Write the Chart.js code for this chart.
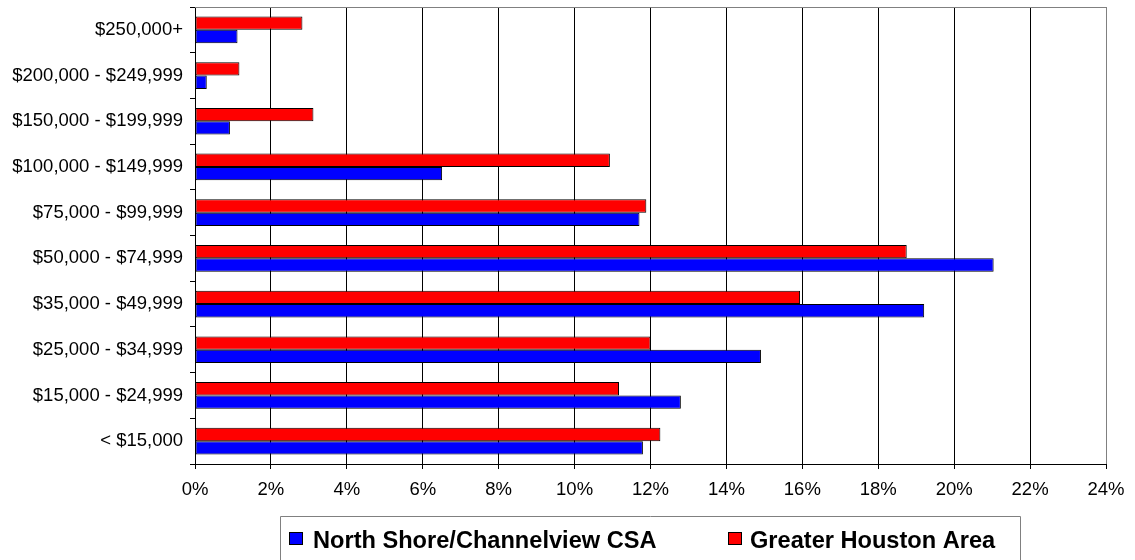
<!DOCTYPE html>
<html>
<head>
<meta charset="utf-8">
<script src="https://cdn.jsdelivr.net/npm/chart.js@4/dist/chart.umd.min.js"></script>
<style>
  html, body { margin: 0; padding: 0; background: #ffffff; }
  #wrap { width: 1135px; height: 560px; }
</style>
</head>
<body>
<div id="wrap"><canvas id="c" width="1135" height="560"></canvas></div>
<script>
// ---- data ----
const categories = [
  '$250,000+',
  '$200,000 - $249,999',
  '$150,000 - $199,999',
  '$100,000 - $149,999',
  '$75,000 - $99,999',
  '$50,000 - $74,999',
  '$35,000 - $49,999',
  '$25,000 - $34,999',
  '$15,000 - $24,999',
  '< $15,000'
];
const northShore = [1.12, 0.31, 0.92, 6.51, 11.71, 21.04, 19.21, 14.91, 12.8, 11.8];
const greaterHouston = [2.83, 1.17, 3.12, 10.93, 11.89, 18.75, 15.94, 12.0, 11.17, 12.26];
const seriesNames = ['North Shore/Channelview CSA', 'Greater Houston Area'];
const xTickValues = [0, 2, 4, 6, 8, 10, 12, 14, 16, 18, 20, 22, 24];

const FONT = '"Liberation Sans", Arial, sans-serif';

// frame (top border) drawn behind the bars
const framePlugin = {
  id: 'frame',
  beforeDatasetsDraw(chart) {
    const { ctx, chartArea: a } = chart;
    ctx.save();
    ctx.strokeStyle = '#808080';
    ctx.lineWidth = 1;
    ctx.beginPath();
    ctx.moveTo(a.left, Math.round(a.top) + 0.5);
    ctx.lineTo(a.right + 0.5, Math.round(a.top) + 0.5);
    ctx.stroke();
    ctx.restore();
  }
};

// boxed legend below the chart (items listed in legend order)
const boxLegend = {
  id: 'boxLegend',
  afterDraw(chart) {
    const { ctx } = chart;
    const items = [
      { ds: chart.data.datasets[1], sqX: 289, txtX: 313 },
      { ds: chart.data.datasets[0], sqX: 728, txtX: 750 }
    ];
    ctx.save();
    ctx.strokeStyle = '#808080';
    ctx.lineWidth = 1;
    ctx.beginPath();
    ctx.moveTo(280.5, 562);
    ctx.lineTo(280.5, 516.5);
    ctx.lineTo(1020.5, 516.5);
    ctx.lineTo(1020.5, 562);
    ctx.stroke();
    ctx.font = 'bold 23.6px ' + FONT;
    ctx.textBaseline = 'alphabetic';
    ctx.textAlign = 'left';
    items.forEach(it => {
      ctx.fillStyle = it.ds.backgroundColor;
      ctx.fillRect(it.sqX, 532, 14, 13);
      ctx.strokeStyle = '#000';
      ctx.strokeRect(it.sqX + 0.5, 532.5, 13, 12);
      ctx.fillStyle = '#000';
      ctx.fillText(it.ds.label, it.txtX, 548);
    });
    ctx.restore();
  }
};

new Chart(document.getElementById('c'), {
  type: 'bar',
  data: {
    labels: categories,
    datasets: [
      {
        label: seriesNames[1],
        data: greaterHouston,
        backgroundColor: '#FF0000',
        borderColor: '#000000',
        borderWidth: 1,
        borderSkipped: false
      },
      {
        label: seriesNames[0],
        data: northShore,
        backgroundColor: '#0000FF',
        borderColor: '#000000',
        borderWidth: 1,
        borderSkipped: false
      }
    ]
  },
  options: {
    indexAxis: 'y',
    responsive: false,
    devicePixelRatio: 1,
    animation: false,
    layout: { padding: { top: 7, right: 29, left: 0, bottom: 0 } },
    datasets: { bar: { categoryPercentage: 0.584, barPercentage: 1.0 } },
    plugins: { legend: { display: false }, tooltip: { enabled: false } },
    scales: {
      x: {
        type: 'linear',
        min: 0,
        max: 24,
        afterFit(scale) { scale.height = 96; scale.paddingLeft = 0; scale.paddingRight = 0; },
        afterBuildTicks(scale) { scale.ticks = xTickValues.map(v => ({ value: v })); },
        ticks: {
          callback: v => v + '%',
          color: '#000',
          font: { family: FONT, size: 18.5 },
          padding: 10,
          maxRotation: 0
        },
        grid: {
          color: c => (c.tick && c.tick.value === 24 ? '#808080' : '#000'),
          lineWidth: 1,
          drawTicks: true,
          tickLength: 5,
          tickColor: '#000'
        },
        border: { display: true, color: '#000', width: 1 }
      },
      y: {
        type: 'category',
        afterFit(scale) { scale.width = 195; scale.paddingTop = 0; scale.paddingBottom = 0; },
        ticks: {
          color: '#000',
          font: { family: FONT, size: 18.5 },
          padding: 7,
          autoSkip: false
        },
        grid: {
          display: true,
          drawOnChartArea: false,
          drawTicks: true,
          tickLength: 5,
          tickColor: '#000',
          offset: true
        },
        border: { display: true, color: '#000', width: 1 }
      }
    }
  },
  plugins: [framePlugin, boxLegend]
});
</script>
</body>
</html>
